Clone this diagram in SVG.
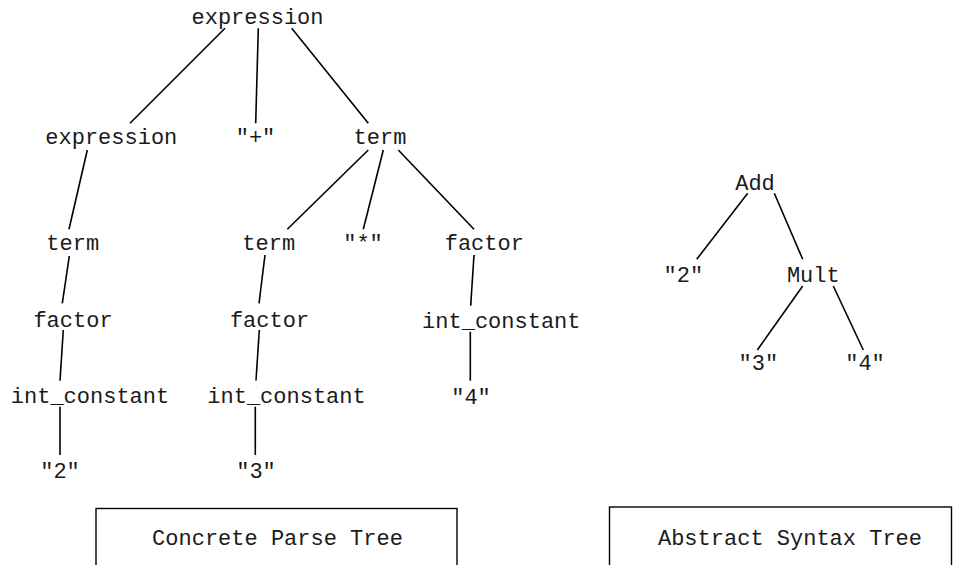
<svg xmlns="http://www.w3.org/2000/svg" width="959" height="565" viewBox="0 0 959 565">
<style>
text{font-family:"Liberation Mono","Courier New",monospace;font-size:22px;fill:#1a1a1a;text-anchor:middle}
.e line{stroke:#000;stroke-width:1.6;stroke-linecap:butt}
.box{fill:#fff;stroke:#000;stroke-width:1.4}
</style>
<rect width="959" height="565" fill="#fff"/>
<g id="connectors" class="e">
<line x1="225" y1="28.3" x2="130" y2="123.3"/>
<line x1="258.3" y1="28.3" x2="255.7" y2="123.3"/>
<line x1="291.7" y1="28.3" x2="368.3" y2="123.3"/>
<line x1="87.3" y1="150" x2="69" y2="229.3"/>
<line x1="368.3" y1="150" x2="287.3" y2="229.3"/>
<line x1="383.3" y1="150" x2="363.3" y2="229.3"/>
<line x1="398.3" y1="150" x2="474" y2="229.3"/>
<line x1="69.3" y1="256" x2="62.3" y2="303.3"/>
<line x1="265" y1="255" x2="259" y2="303.3"/>
<line x1="474" y1="255" x2="470.7" y2="305.7"/>
<line x1="63.3" y1="330" x2="60" y2="380.7"/>
<line x1="259.3" y1="330" x2="256" y2="380.5"/>
<line x1="470.3" y1="331.7" x2="470.3" y2="380.7"/>
<line x1="60" y1="406.7" x2="60" y2="455"/>
<line x1="255.3" y1="406.7" x2="255.3" y2="455"/>
<line x1="747.7" y1="193.3" x2="696.7" y2="259.3"/>
<line x1="774.3" y1="193.3" x2="802.7" y2="259.3"/>
<line x1="802.7" y1="286" x2="757.3" y2="350"/>
<line x1="833.3" y1="286" x2="863.3" y2="350"/>
</g>
<g id="n_expr_root"><text x="257.5" y="24">expression</text></g>
<g id="n_expr2"><text x="111.3" y="144">expression</text></g>
<g id="n_plus"><text x="255.5" y="144">"+"</text></g>
<g id="n_term2"><text x="380" y="144">term</text></g>
<g id="n_term3a"><text x="72.7" y="250">term</text></g>
<g id="n_term3b"><text x="268.7" y="250">term</text></g>
<g id="n_star"><text x="363" y="250">"*"</text></g>
<g id="n_factor3"><text x="484.3" y="250">factor</text></g>
<g id="n_factor4a"><text x="73" y="327">factor</text></g>
<g id="n_factor4b"><text x="269.5" y="327">factor</text></g>
<g id="n_int4"><text x="501.3" y="327.5">int_constant</text></g>
<g id="n_int5a"><text x="90" y="403">int_constant</text></g>
<g id="n_int5b"><text x="286.5" y="403">int_constant</text></g>
<g id="n_str4"><text x="471" y="404">"4"</text></g>
<g id="n_str2"><text x="60" y="478">"2"</text></g>
<g id="n_str3"><text x="256" y="478">"3"</text></g>
<g id="a_add"><text x="755" y="190">Add</text></g>
<g id="a_str2"><text x="683.3" y="282">"2"</text></g>
<g id="a_mult"><text x="813.3" y="282">Mult</text></g>
<g id="a_str3"><text x="758.3" y="370">"3"</text></g>
<g id="a_str4"><text x="865" y="370">"4"</text></g>
<g id="label_concrete"><rect class="box" x="96" y="508.5" width="361" height="70"/><text x="277.5" y="545">Concrete Parse Tree</text></g>
<g id="label_abstract"><rect class="box" x="609.5" y="507" width="342" height="70"/><text x="790" y="545">Abstract Syntax Tree</text></g>
</svg>
